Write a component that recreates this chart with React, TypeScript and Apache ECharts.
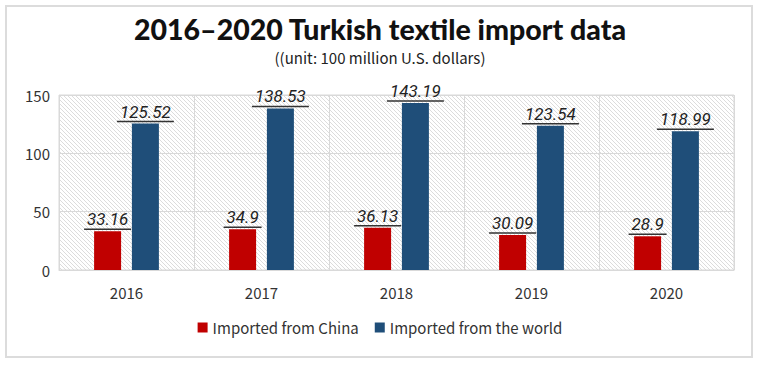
import React, { useEffect, useRef } from "react";
import * as echarts from "echarts";

const years = ["2016", "2017", "2018", "2019", "2020"];
const fromChina = [33.16, 34.9, 36.13, 30.09, 28.9];
const fromWorld = [125.52, 138.53, 143.19, 123.54, 118.99];
const seriesNames = ["Imported from China", "Imported from the world"];
const yTicks = { min: 0, max: 150, interval: 50 };

const LABEL_FONT = "italic 17px Roboto";

function makeHatch(): string {
  const s = 4;
  const c = document.createElement("canvas");
  c.width = s;
  c.height = s;
  const ctx = c.getContext("2d")!;
  ctx.fillStyle = "#ffffff";
  ctx.fillRect(0, 0, s, s);
  ctx.strokeStyle = "#dcdcdc";
  ctx.lineWidth = 1;
  ctx.beginPath();
  ctx.moveTo(-1, -1);
  ctx.lineTo(s + 1, s + 1);
  ctx.moveTo(-1, s - 1);
  ctx.lineTo(1, s + 1);
  ctx.moveTo(s - 1, -1);
  ctx.lineTo(s + 1, 1);
  ctx.stroke();
  return c.toDataURL();
}

function measure(text: string): number {
  const c = document.createElement("canvas");
  const ctx = c.getContext("2d")!;
  ctx.font = LABEL_FONT;
  return ctx.measureText(text).width;
}

const CJK = "'Noto Sans CJK SC', 'Noto Sans', sans-serif";

function labelCfg(values: number[]) {
  const rich: any = {
    v: {
      fontFamily: "Roboto, sans-serif",
      fontStyle: "italic",
      fontSize: 17,
      color: "#222",
      lineHeight: 18,
      align: "center",
    },
  };
  values.forEach((val, i) => {
    rich["u" + i] = {
      width: Math.round(measure(String(val)) + 6),
      height: 1.5,
      lineHeight: 2,
      backgroundColor: "#333",
      align: "center",
    };
  });
  return {
    show: true,
    position: "top" as const,
    distance: 1,
    formatter: (p: any) => `{v|${p.value}}\n{u${p.dataIndex}|}`,
    rich,
  };
}

export default function App() {
  const ref = useRef<HTMLDivElement>(null);
  useEffect(() => {
    if (!ref.current) return;
    const chart = echarts.init(ref.current, undefined, { renderer: "svg" });
    const hatch = makeHatch();
    chart.setOption({
      animation: false,
      backgroundColor: "#ffffff",
      graphic: [
        {
          type: "rect",
          shape: { x: 6, y: 6, width: 746, height: 351 },
          style: { fill: "none", stroke: "#dcdcdc", lineWidth: 2 },
          z: -1,
        },
      ],
      title: [
        {
          text: "2016–2020 Turkish textile import data",
          left: "center",
          top: 14,
          padding: 0,
          textStyle: {
            fontFamily: "Lato, sans-serif",
            fontWeight: 900,
            fontSize: 28.5,
            lineHeight: 30,
            color: "#111",
          },
        },
        {
          text: "((unit: 100 million U.S. dollars)",
          left: "center",
          top: 48,
          padding: 0,
          textStyle: {
            fontFamily: CJK,
            fontWeight: "normal",
            fontSize: 15,
            lineHeight: 18,
            color: "#222",
          },
        },
      ],
      legend: {
        bottom: 26,
        left: "center",
        itemWidth: 10,
        itemHeight: 10,
        itemGap: 16,
        icon: "rect",
        textStyle: { fontFamily: CJK, fontSize: 15, color: "#333" },
        data: seriesNames,
      },
      grid: {
        left: 59,
        right: 26,
        top: 95,
        bottom: 96,
        show: true,
        borderColor: "#d9d9d9",
        borderWidth: 1,
        backgroundColor: {
          image: hatch,
          repeat: "repeat",
          imageWidth: 4,
          imageHeight: 4,
        } as any,
      },
      xAxis: {
        type: "category",
        data: years,
        axisTick: { show: false },
        axisLine: { lineStyle: { color: "#d9d9d9" } },
        axisLabel: {
          fontFamily: CJK,
          fontSize: 15,
          color: "#333",
          margin: 15,
        },
        splitLine: { show: true, lineStyle: { color: "#d9d9d9" } },
      },
      yAxis: {
        type: "value",
        min: yTicks.min,
        max: yTicks.max,
        interval: yTicks.interval,
        axisLine: { show: false },
        axisTick: { show: false },
        axisLabel: {
          fontFamily: CJK,
          fontSize: 15,
          color: "#333",
          margin: 9,
        },
        splitLine: { lineStyle: { color: "#d9d9d9" } },
      },
      series: [
        {
          name: seriesNames[0],
          type: "bar",
          data: fromChina,
          barWidth: 27,
          barGap: "40%",
          itemStyle: { color: "#C00000" },
          label: labelCfg(fromChina),
        },
        {
          name: seriesNames[1],
          type: "bar",
          data: fromWorld,
          barWidth: 27,
          barGap: "40%",
          itemStyle: { color: "#1F4E79" },
          label: labelCfg(fromWorld),
        },
      ],
    });
    return () => chart.dispose();
  }, []);
  return (
    <div
      ref={ref}
      style={{ position: "absolute", left: 0, top: 0, width: 760, height: 366 }}
    />
  );
}
